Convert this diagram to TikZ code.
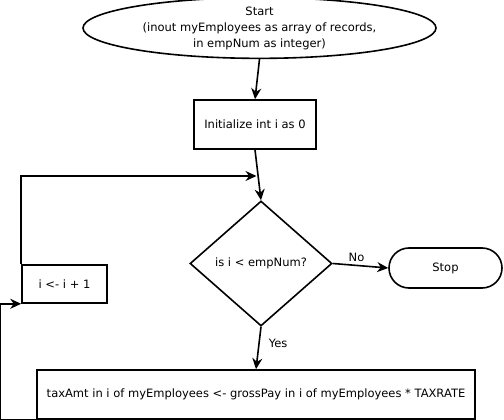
\documentclass[tikz,border=0pt]{standalone}
\usepackage{fontspec}
\setmainfont{DejaVu Sans}
\usetikzlibrary{arrows.meta,shapes.geometric,shapes.misc}
\begin{document}
\begin{tikzpicture}[x=1pt,y=-1pt,line width=1.6pt,
  font=\fontsize{11.5}{16}\selectfont,
  box/.style={draw,rectangle,inner sep=0pt,align=center},
  arr/.style={-{Stealth[length=11pt,width=10pt]}},
  lbl/.style={inner sep=1pt}]
\useasboundingbox (0,0) rectangle (504,420);

% shapes
\node[box,ellipse,minimum width=353,minimum height=54] (start) at (259.5,28)
  {Start\\(inout myEmployees as array of records,\\in empNum as integer)};
\node[box,minimum width=122,minimum height=49] (init) at (255,124.5) {Initialize int i as 0};
\node[box,diamond,minimum width=142,minimum height=125] (dec) at (261,263.5) {is i < empNum?};
\node[box,rounded rectangle,minimum width=113,minimum height=40] (stop) at (445.5,268) {Stop};
\node[box,minimum width=85,minimum height=38] (inc) at (64.5,284) {i <- i + 1};
\node[box,minimum width=438,minimum height=49] (calc) at (256,394.5)
  {taxAmt in i of myEmployees <- grossPay in i of myEmployees * TAXRATE};

% connectors
\coordinate (join) at (256.5,176);
\draw[arr] (start.south) -- (init.north);
\draw[arr] (init.south) -- (dec.north);
\draw[arr] (inc.north west) |- (join);
\draw[arr] (dec.east) -- node[lbl,above,xshift=-4pt,yshift=2pt] {No} (stop.west);
\draw[arr] (dec.south) -- node[lbl,right,pos=0.4,xshift=8pt] {Yes} (calc.north);
\draw[arr] (calc.south west) -- ++(-36,0) |- (inc.south west);
\end{tikzpicture}
\end{document}
